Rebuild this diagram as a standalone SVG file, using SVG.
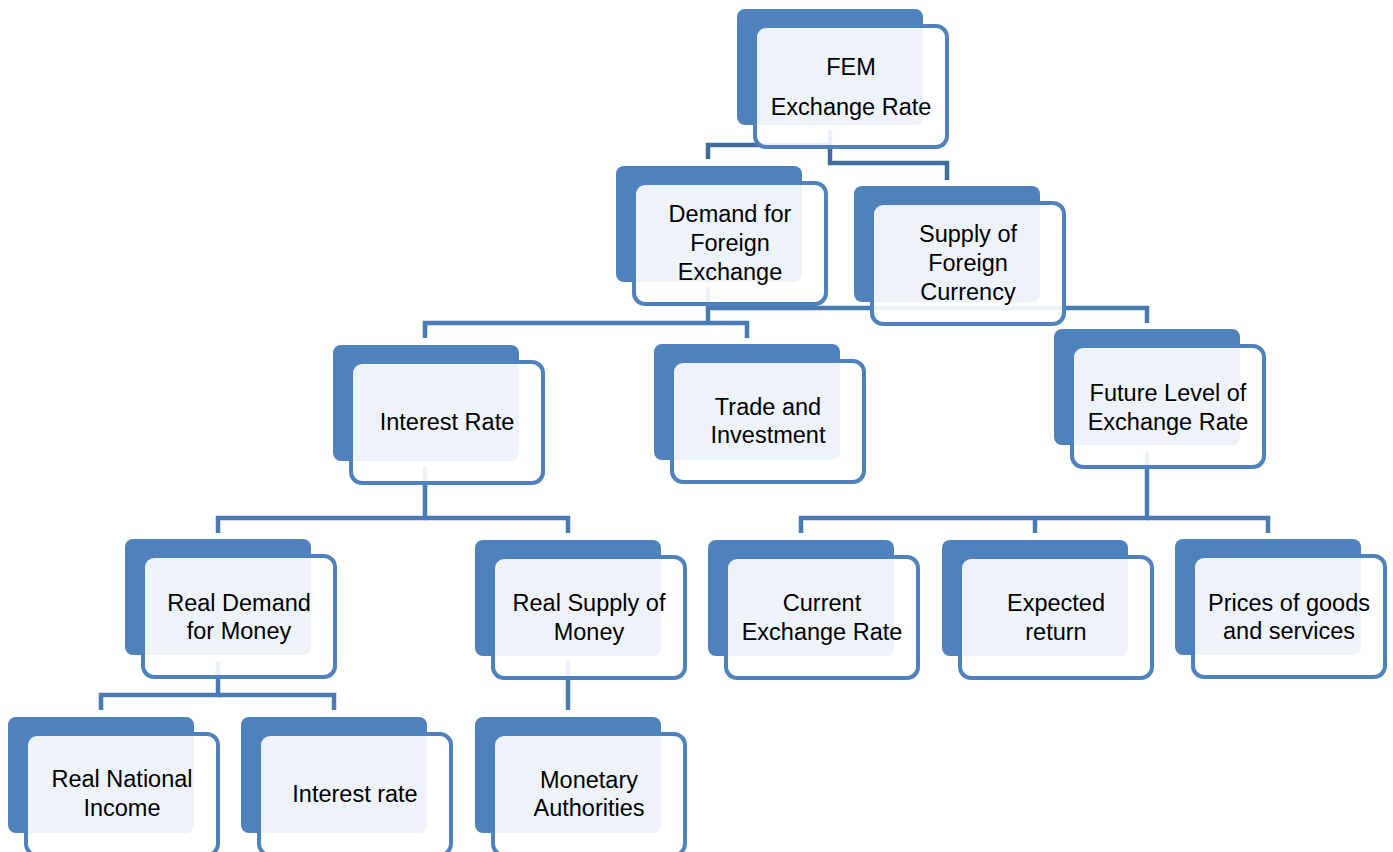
<svg xmlns="http://www.w3.org/2000/svg" width="1393" height="852" viewBox="0 0 1393 852">
<style>
.bk{fill:#4F81BD}
.fr{fill:#FFFFFF;fill-opacity:0.9;stroke:#4F81BD;stroke-width:4}
.t{font-family:"Liberation Sans",Arial,sans-serif;font-size:23.5px;fill:#000;text-anchor:middle}
.c{fill:none;stroke:#4A7AB4;stroke-width:4.5}
.c0{fill:none;stroke:#416B9F;stroke-width:4.5}
</style>
<rect width="1393" height="852" fill="#FFFFFF"/>
<g id="connectors">
<path class="c0" d="M830,130 V163 H947 V180"/>
<path class="c0" d="M830,145 H708 V159"/>
<path class="c" d="M708,287 V323 H425 V338"/>
<path class="c" d="M708,323 H747 V338"/>
<path class="c" d="M708,308 H1147 V323"/>
<path class="c" d="M425,467 V518 H218 V533"/>
<path class="c" d="M425,518 H568 V533"/>
<path class="c" d="M1147,451 V518 H801 V533"/>
<path class="c" d="M1147,518 H1268 V533"/>
<path class="c" d="M1035,518 V533"/>
<path class="c" d="M218,661 V695 H101 V710"/>
<path class="c" d="M218,695 H334 V710"/>
<path class="c" d="M568,661 V710"/>
</g>
<g id="fem">
<rect class="bk" x="737" y="9" width="186" height="116" rx="8"/>
<rect class="fr" x="755" y="26" width="192" height="121" rx="11"/>
<text class="t" x="851" y="75">FEM</text>
<text class="t" x="851" y="115">Exchange Rate</text>
</g>
<g id="demand">
<rect class="bk" x="616" y="166" width="186" height="116" rx="8"/>
<rect class="fr" x="634" y="183" width="192" height="121" rx="11"/>
<text class="t" x="730" y="222">Demand for</text>
<text class="t" x="730" y="251">Foreign</text>
<text class="t" x="730" y="280">Exchange</text>
</g>
<g id="supply">
<rect class="bk" x="854" y="186" width="186" height="116" rx="8"/>
<rect class="fr" x="872" y="203" width="192" height="121" rx="11"/>
<text class="t" x="968" y="242">Supply of</text>
<text class="t" x="968" y="271">Foreign</text>
<text class="t" x="968" y="300">Currency</text>
</g>
<g id="interest">
<rect class="bk" x="333" y="345" width="186" height="116" rx="8"/>
<rect class="fr" x="351" y="362" width="192" height="121" rx="11"/>
<text class="t" x="447" y="430">Interest Rate</text>
</g>
<g id="trade">
<rect class="bk" x="654" y="344" width="186" height="116" rx="8"/>
<rect class="fr" x="672" y="361" width="192" height="121" rx="11"/>
<text class="t" x="768" y="415">Trade and</text>
<text class="t" x="768" y="443">Investment</text>
</g>
<g id="future">
<rect class="bk" x="1054" y="329" width="186" height="116" rx="8"/>
<rect class="fr" x="1072" y="346" width="192" height="121" rx="11"/>
<text class="t" x="1168" y="401">Future Level of</text>
<text class="t" x="1168" y="430">Exchange Rate</text>
</g>
<g id="realdemand">
<rect class="bk" x="125" y="539" width="186" height="116" rx="8"/>
<rect class="fr" x="143" y="556" width="192" height="121" rx="11"/>
<text class="t" x="239" y="611">Real Demand</text>
<text class="t" x="239" y="639">for Money</text>
</g>
<g id="realsupply">
<rect class="bk" x="475" y="540" width="186" height="116" rx="8"/>
<rect class="fr" x="493" y="557" width="192" height="121" rx="11"/>
<text class="t" x="589" y="611">Real Supply of</text>
<text class="t" x="589" y="640">Money</text>
</g>
<g id="current">
<rect class="bk" x="708" y="540" width="186" height="116" rx="8"/>
<rect class="fr" x="726" y="557" width="192" height="121" rx="11"/>
<text class="t" x="822" y="611">Current</text>
<text class="t" x="822" y="640">Exchange Rate</text>
</g>
<g id="expected">
<rect class="bk" x="942" y="540" width="186" height="116" rx="8"/>
<rect class="fr" x="960" y="557" width="192" height="121" rx="11"/>
<text class="t" x="1056" y="611">Expected</text>
<text class="t" x="1056" y="640">return</text>
</g>
<g id="prices">
<rect class="bk" x="1175" y="539" width="186" height="116" rx="8"/>
<rect class="fr" x="1193" y="556" width="192" height="121" rx="11"/>
<text class="t" x="1289" y="611">Prices of goods</text>
<text class="t" x="1289" y="639">and services</text>
</g>
<g id="realnational">
<rect class="bk" x="8" y="717" width="186" height="116" rx="8"/>
<rect class="fr" x="26" y="734" width="192" height="121" rx="11"/>
<text class="t" x="122" y="787">Real National</text>
<text class="t" x="122" y="816">Income</text>
</g>
<g id="interestrate">
<rect class="bk" x="241" y="717" width="186" height="116" rx="8"/>
<rect class="fr" x="259" y="734" width="192" height="121" rx="11"/>
<text class="t" x="355" y="802">Interest rate</text>
</g>
<g id="monetary">
<rect class="bk" x="475" y="717" width="186" height="116" rx="8"/>
<rect class="fr" x="493" y="734" width="192" height="121" rx="11"/>
<text class="t" x="589" y="788">Monetary</text>
<text class="t" x="589" y="816">Authorities</text>
</g>
</svg>
